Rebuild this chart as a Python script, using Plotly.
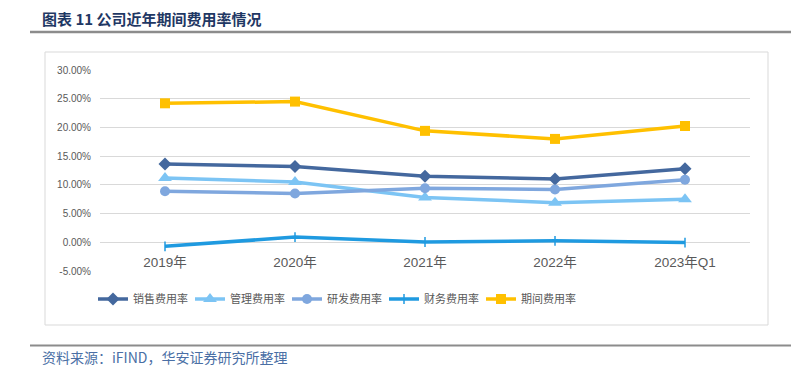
import plotly.graph_objects as go

categories = ["2019年", "2020年", "2021年", "2022年", "2023年Q1"]
sales_rate = [13.64, 13.2, 11.5, 11.0, 12.8]
admin_rate = [11.2, 10.5, 7.8, 6.9, 7.5]
rd_rate = [8.9, 8.5, 9.4, 9.2, 10.9]
fin_rate = [-0.7, 0.9, 0.05, 0.25, -0.05]
period_rate = [24.2, 24.5, 19.4, 18.0, 20.25]
y_ticks = [-5, 0, 5, 10, 15, 20, 25, 30]
y_tick_text = ["-5.00%", "0.00%", "5.00%", "10.00%", "15.00%", "20.00%", "25.00%", "30.00%"]

series = [
    ("销售费用率", sales_rate, "#44689E", "diamond", 10),
    ("管理费用率", admin_rate, "#7CC4F4", "triangle-up", 12),
    ("研发费用率", rd_rate, "#7FA7DE", "circle", 10),
    ("财务费用率", fin_rate, "#1F9AE0", "line-ns", 7),
    ("期间费用率", period_rate, "#FFC000", "square", 10),
]

fig = go.Figure()
for name, vals, color, sym, size in series:
    marker = dict(symbol=sym, size=size, color=color)
    if sym == "line-ns":
        marker["line"] = dict(color=color, width=1.5)
    fig.add_trace(go.Scatter(
        x=categories, y=vals, name=name, mode="lines+markers",
        line=dict(color=color, width=3.5), marker=marker,
        hovertemplate="%{x}: %{y:.2f}%<extra>" + name + "</extra>",
    ))

W, H = 791, 386
L, R, T, B = 100, 41, 70, 115
pw, ph = W - L - R, H - T - B

def px(x):
    return (x - L) / pw

def py(y):
    return (H - B - y) / ph

fig.update_layout(
    width=W, height=H,
    margin=dict(l=L, r=R, t=T, b=B, autoexpand=False),
    paper_bgcolor="white", plot_bgcolor="white",
    font=dict(family="Liberation Sans, Arial, Noto Sans CJK SC", color="#595959"),
    xaxis=dict(
        type="category", range=[-0.5, 4.5], showgrid=False, showline=False,
        ticks="", anchor="free", position=5 / 35, ticklabelstandoff=10,
        tickfont=dict(size=13.5, color="#595959", family="Liberation Sans, Noto Sans CJK SC"),
        fixedrange=True,
    ),
    yaxis=dict(
        range=[-5, 30], tickvals=y_ticks, ticktext=y_tick_text,
        showgrid=True, gridcolor="#D9D9D9", gridwidth=1,
        zeroline=True, zerolinecolor="#D9D9D9", zerolinewidth=1,
        showline=False, ticks="", tickfont=dict(size=10, color="#595959"),
        ticklabelstandoff=8, fixedrange=True,
    ),
    legend=dict(
        orientation="h", x=px(93), xanchor="left", y=py(299), yanchor="middle",
        font=dict(size=11, color="#595959", family="Noto Sans CJK SC"),
        entrywidth=52, entrywidthmode="pixels",
        itemwidth=30, tracegroupgap=0, bgcolor="rgba(0,0,0,0)",
    ),
    showlegend=True,
    shapes=[
        dict(type="rect", xref="paper", yref="paper", x0=px(45), x1=px(768), y0=py(325), y1=py(52),
             line=dict(color="#D9D9D9", width=1), layer="below"),
        dict(type="line", xref="paper", yref="paper", x0=px(30), x1=px(791), y0=py(32), y1=py(32),
             line=dict(color="#8C8C8C", width=2.5)),
        dict(type="line", xref="paper", yref="paper", x0=px(30), x1=px(791), y0=py(345.5), y1=py(345.5),
             line=dict(color="#8C8C8C", width=2)),
    ],
    annotations=[
        dict(text="<b>图表 11 公司近年期间费用率情况</b>", xref="paper", yref="paper",
             x=px(40), y=py(19), xanchor="left", yanchor="middle", showarrow=False,
             font=dict(size=15, color="#1F3864", family="Noto Sans CJK SC")),
        dict(text="资料来源：iFIND，华安证券研究所整理", xref="paper", yref="paper",
             x=px(40), y=py(357), xanchor="left", yanchor="middle", showarrow=False,
             font=dict(size=14, color="#4A6FA5", family="Noto Sans CJK SC")),
    ],
)

fig.write_html("out.html", config={"displayModeBar": False},
               post_script="document.body.style.margin='0';")
